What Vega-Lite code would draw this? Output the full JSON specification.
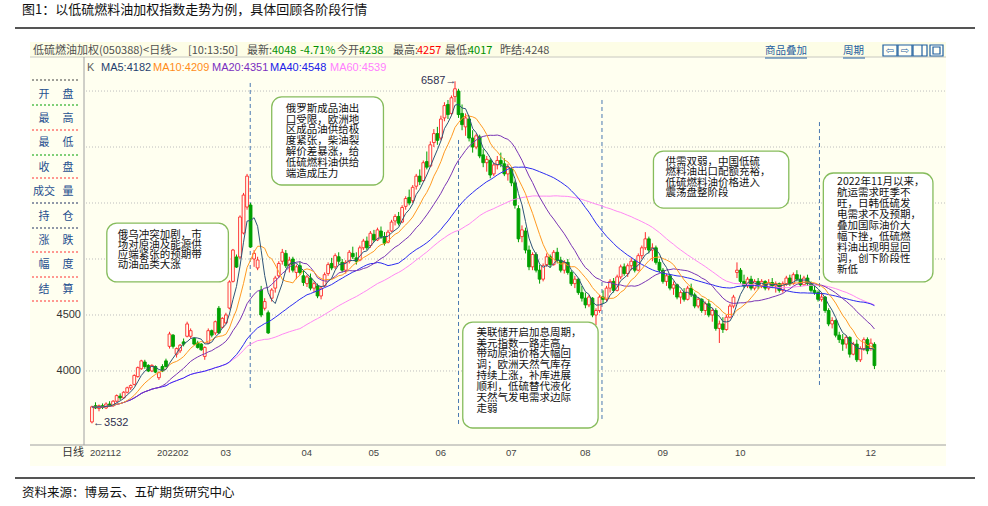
{
"$schema": "https://vega.github.io/schema/vega-lite/v6.json",
"width": 861, "height": 373,
"autosize": {"type": "none"},
"padding": {"left": 84, "top": 72, "right": 43, "bottom": 61},
"background": "#FFFFFF",
"config": {"view": {"stroke": null}, "font": "Noto Sans CJK SC"},
"datasets": {
"candles": [
{"i":0,"o":3545,"h":3690,"l":3532,"c":3680},{"i":1,"o":3690,"h":3720,"l":3660,"c":3670},{"i":2,"o":3665,"h":3700,"l":3640,"c":3690},{"i":3,"o":3690,"h":3710,"l":3660,"c":3675},{"i":4,"o":3670,"h":3720,"l":3660,"c":3705},{"i":5,"o":3705,"h":3730,"l":3680,"c":3690},{"i":6,"o":3690,"h":3740,"l":3680,"c":3730},{"i":7,"o":3730,"h":3790,"l":3720,"c":3780},{"i":8,"o":3775,"h":3800,"l":3740,"c":3760},{"i":9,"o":3760,"h":3820,"l":3750,"c":3810},
{"i":10,"o":3810,"h":3860,"l":3800,"c":3850},{"i":11,"o":3850,"h":3880,"l":3830,"c":3870},{"i":12,"o":3880,"h":3970,"l":3870,"c":3960},{"i":13,"o":3950,"h":4040,"l":3940,"c":4030},{"i":14,"o":4020,"h":4100,"l":4010,"c":4090},{"i":15,"o":4080,"h":4100,"l":4020,"c":4040},{"i":16,"o":4050,"h":4060,"l":3990,"c":4000},{"i":17,"o":4000,"h":4060,"l":3990,"c":4050},{"i":18,"o":4040,"h":4050,"l":3980,"c":3990},{"i":19,"o":3940,"h":3995,"l":3920,"c":3985},
{"i":20,"o":4040,"h":4060,"l":3990,"c":4000},{"i":21,"o":4090,"h":4110,"l":4030,"c":4040},{"i":22,"o":4220,"h":4350,"l":4200,"c":4330},{"i":23,"o":4320,"h":4330,"l":4200,"c":4220},{"i":24,"o":4150,"h":4210,"l":4120,"c":4200},{"i":25,"o":4180,"h":4240,"l":4160,"c":4230},{"i":26,"o":4260,"h":4290,"l":4220,"c":4240},{"i":27,"o":4310,"h":4440,"l":4300,"c":4420},{"i":28,"o":4310,"h":4380,"l":4290,"c":4360},{"i":29,"o":4290,"h":4300,"l":4230,"c":4240},
{"i":30,"o":4250,"h":4270,"l":4200,"c":4210},{"i":31,"o":4240,"h":4250,"l":4180,"c":4190},{"i":32,"o":4130,"h":4220,"l":4100,"c":4210},{"i":33,"o":4250,"h":4380,"l":4240,"c":4360},{"i":34,"o":4360,"h":4370,"l":4300,"c":4320},{"i":35,"o":4340,"h":4450,"l":4320,"c":4440},{"i":36,"o":4560,"h":4580,"l":4330,"c":4340},{"i":37,"o":4390,"h":4480,"l":4380,"c":4470},{"i":38,"o":4430,"h":4520,"l":4420,"c":4500},{"i":39,"o":4562,"h":4810,"l":4550,"c":4795},
{"i":40,"o":4800,"h":5090,"l":4790,"c":5080},{"i":41,"o":5018,"h":5040,"l":4920,"c":4928},{"i":42,"o":5018,"h":5390,"l":5000,"c":5375},{"i":43,"o":5232,"h":5590,"l":5220,"c":5571},{"i":44,"o":5464,"h":5760,"l":5440,"c":5740},{"i":45,"o":5482,"h":5500,"l":5100,"c":5107},{"i":46,"o":5000,"h":5080,"l":4930,"c":5050},{"i":47,"o":4920,"h":5020,"l":4900,"c":4991},{"i":48,"o":4723,"h":4760,"l":4480,"c":4500},{"i":49,"o":4560,"h":4650,"l":4540,"c":4620},
{"i":50,"o":4520,"h":4540,"l":4330,"c":4340},{"i":51,"o":4650,"h":4740,"l":4620,"c":4723},{"i":52,"o":4740,"h":4850,"l":4700,"c":4830},{"i":53,"o":4850,"h":4980,"l":4830,"c":4960},{"i":54,"o":4980,"h":5090,"l":4950,"c":5060},{"i":55,"o":5050,"h":5080,"l":4920,"c":4940},{"i":56,"o":4950,"h":5020,"l":4880,"c":4990},{"i":57,"o":5000,"h":5020,"l":4880,"c":4900},{"i":58,"o":4880,"h":4950,"l":4820,"c":4930},{"i":59,"o":4940,"h":4980,"l":4860,"c":4880},
{"i":60,"o":4850,"h":4900,"l":4760,"c":4790},{"i":61,"o":4780,"h":4860,"l":4750,"c":4840},{"i":62,"o":4830,"h":4870,"l":4720,"c":4740},{"i":63,"o":4740,"h":4800,"l":4700,"c":4780},{"i":64,"o":4760,"h":4780,"l":4650,"c":4670},{"i":65,"o":4670,"h":4760,"l":4640,"c":4740},{"i":66,"o":4760,"h":4880,"l":4750,"c":4860},{"i":67,"o":4870,"h":4970,"l":4850,"c":4950},{"i":68,"o":4960,"h":5010,"l":4900,"c":4920},{"i":69,"o":4930,"h":5050,"l":4910,"c":5030},
{"i":70,"o":5020,"h":5060,"l":4950,"c":4980},{"i":71,"o":4970,"h":5000,"l":4880,"c":4900},{"i":72,"o":4900,"h":4990,"l":4870,"c":4970},{"i":73,"o":4980,"h":5080,"l":4960,"c":5060},{"i":74,"o":5050,"h":5110,"l":5000,"c":5020},{"i":75,"o":5010,"h":5060,"l":4950,"c":4980},{"i":76,"o":4990,"h":5120,"l":4980,"c":5100},{"i":77,"o":5100,"h":5180,"l":5080,"c":5160},{"i":78,"o":5160,"h":5200,"l":5080,"c":5100},{"i":79,"o":5120,"h":5250,"l":5100,"c":5230},
{"i":80,"o":5220,"h":5260,"l":5150,"c":5170},{"i":81,"o":5170,"h":5280,"l":5160,"c":5260},{"i":82,"o":5250,"h":5290,"l":5180,"c":5200},{"i":83,"o":5200,"h":5240,"l":5120,"c":5140},{"i":84,"o":5150,"h":5260,"l":5140,"c":5240},{"i":85,"o":5250,"h":5350,"l":5240,"c":5330},{"i":86,"o":5340,"h":5400,"l":5300,"c":5380},{"i":87,"o":5380,"h":5420,"l":5300,"c":5320},{"i":88,"o":5330,"h":5480,"l":5320,"c":5460},{"i":89,"o":5470,"h":5560,"l":5440,"c":5540},
{"i":90,"o":5550,"h":5620,"l":5480,"c":5500},{"i":91,"o":5520,"h":5660,"l":5500,"c":5640},{"i":92,"o":5650,"h":5760,"l":5620,"c":5740},{"i":93,"o":5740,"h":5800,"l":5660,"c":5690},{"i":94,"o":5700,"h":5880,"l":5690,"c":5860},{"i":95,"o":5870,"h":5960,"l":5800,"c":5820},{"i":96,"o":5830,"h":6050,"l":5820,"c":6020},{"i":97,"o":6040,"h":6160,"l":6000,"c":6120},{"i":98,"o":6120,"h":6180,"l":6020,"c":6060},{"i":99,"o":6080,"h":6280,"l":6060,"c":6250},
{"i":100,"o":6260,"h":6400,"l":6230,"c":6370},{"i":101,"o":6380,"h":6420,"l":6250,"c":6290},{"i":102,"o":6300,"h":6460,"l":6280,"c":6440},{"i":103,"o":6450,"h":6587,"l":6400,"c":6520},{"i":104,"o":6500,"h":6520,"l":6260,"c":6290},{"i":105,"o":6300,"h":6380,"l":6150,"c":6200},{"i":106,"o":6180,"h":6300,"l":6100,"c":6260},{"i":107,"o":6250,"h":6280,"l":6050,"c":6080},{"i":108,"o":6080,"h":6150,"l":5950,"c":6000},{"i":109,"o":6000,"h":6120,"l":5980,"c":6100},
{"i":110,"o":6090,"h":6110,"l":5900,"c":5920},{"i":111,"o":5930,"h":5980,"l":5820,"c":5860},{"i":112,"o":5860,"h":5920,"l":5780,"c":5890},{"i":113,"o":5880,"h":5900,"l":5720,"c":5750},{"i":114,"o":5760,"h":5860,"l":5740,"c":5840},{"i":115,"o":5840,"h":5920,"l":5800,"c":5880},{"i":116,"o":5880,"h":5950,"l":5820,"c":5850},{"i":117,"o":5850,"h":5900,"l":5740,"c":5760},{"i":118,"o":5760,"h":5850,"l":5700,"c":5820},{"i":119,"o":5800,"h":5820,"l":5650,"c":5680},
{"i":120,"o":5680,"h":5700,"l":5450,"c":5480},{"i":121,"o":5450,"h":5480,"l":5150,"c":5180},{"i":122,"o":5200,"h":5300,"l":5150,"c":5260},{"i":123,"o":5250,"h":5280,"l":5050,"c":5080},{"i":124,"o":5080,"h":5120,"l":4900,"c":4930},{"i":125,"o":4930,"h":5060,"l":4900,"c":5040},{"i":126,"o":5040,"h":5060,"l":4880,"c":4900},{"i":127,"o":4900,"h":4950,"l":4780,"c":4820},{"i":128,"o":4820,"h":4960,"l":4800,"c":4940},{"i":129,"o":4950,"h":5050,"l":4930,"c":5020},
{"i":130,"o":5020,"h":5040,"l":4920,"c":4950},{"i":131,"o":4950,"h":5080,"l":4940,"c":5060},{"i":132,"o":5060,"h":5100,"l":4960,"c":4990},{"i":133,"o":4990,"h":5020,"l":4880,"c":4900},{"i":134,"o":4900,"h":4990,"l":4870,"c":4970},{"i":135,"o":4970,"h":5000,"l":4860,"c":4880},{"i":136,"o":4880,"h":4900,"l":4760,"c":4780},{"i":137,"o":4780,"h":4850,"l":4740,"c":4820},{"i":138,"o":4820,"h":4830,"l":4680,"c":4700},{"i":139,"o":4700,"h":4760,"l":4620,"c":4650},
{"i":140,"o":4650,"h":4700,"l":4560,"c":4590},{"i":141,"o":4590,"h":4680,"l":4570,"c":4660},{"i":142,"o":4650,"h":4660,"l":4480,"c":4500},{"i":143,"o":4500,"h":4560,"l":4410,"c":4540},{"i":144,"o":4540,"h":4680,"l":4520,"c":4660},{"i":145,"o":4660,"h":4720,"l":4600,"c":4640},{"i":146,"o":4640,"h":4760,"l":4620,"c":4740},{"i":147,"o":4740,"h":4820,"l":4700,"c":4800},{"i":148,"o":4800,"h":4830,"l":4700,"c":4720},{"i":149,"o":4720,"h":4860,"l":4710,"c":4840},
{"i":150,"o":4840,"h":4950,"l":4820,"c":4930},{"i":151,"o":4930,"h":4960,"l":4850,"c":4870},{"i":152,"o":4870,"h":4960,"l":4840,"c":4940},{"i":153,"o":4940,"h":5010,"l":4900,"c":4980},{"i":154,"o":4980,"h":5000,"l":4880,"c":4900},{"i":155,"o":4900,"h":5050,"l":4890,"c":5030},{"i":156,"o":5030,"h":5120,"l":5000,"c":5100},{"i":157,"o":5100,"h":5240,"l":5080,"c":5180},{"i":158,"o":5180,"h":5200,"l":5050,"c":5080},{"i":159,"o":5080,"h":5140,"l":4980,"c":5100},
{"i":160,"o":5100,"h":5120,"l":4950,"c":4970},{"i":161,"o":4970,"h":5000,"l":4880,"c":4900},{"i":162,"o":4900,"h":4920,"l":4780,"c":4800},{"i":163,"o":4800,"h":4870,"l":4760,"c":4850},{"i":164,"o":4850,"h":4860,"l":4720,"c":4740},{"i":165,"o":4740,"h":4800,"l":4680,"c":4770},{"i":166,"o":4770,"h":4780,"l":4640,"c":4660},{"i":167,"o":4660,"h":4720,"l":4600,"c":4700},{"i":168,"o":4700,"h":4740,"l":4620,"c":4640},{"i":169,"o":4640,"h":4760,"l":4630,"c":4740},
{"i":170,"o":4740,"h":4780,"l":4660,"c":4680},{"i":171,"o":4680,"h":4700,"l":4560,"c":4580},{"i":172,"o":4580,"h":4660,"l":4560,"c":4640},{"i":173,"o":4640,"h":4650,"l":4520,"c":4540},{"i":174,"o":4540,"h":4620,"l":4500,"c":4600},{"i":175,"o":4600,"h":4640,"l":4480,"c":4500},{"i":176,"o":4500,"h":4560,"l":4440,"c":4540},{"i":177,"o":4540,"h":4560,"l":4360,"c":4380},{"i":178,"o":4380,"h":4450,"l":4250,"c":4420},{"i":179,"o":4420,"h":4480,"l":4340,"c":4370},
{"i":180,"o":4370,"h":4500,"l":4360,"c":4480},{"i":181,"o":4480,"h":4600,"l":4470,"c":4580},{"i":182,"o":4580,"h":4680,"l":4560,"c":4660},{"i":183,"o":4880,"h":4970,"l":4830,"c":4900},{"i":184,"o":4900,"h":4920,"l":4780,"c":4800},{"i":185,"o":4800,"h":4860,"l":4740,"c":4760},{"i":186,"o":4760,"h":4840,"l":4740,"c":4820},{"i":187,"o":4820,"h":4850,"l":4720,"c":4740},{"i":188,"o":4740,"h":4820,"l":4720,"c":4800},{"i":189,"o":4800,"h":4830,"l":4730,"c":4760},
{"i":190,"o":4760,"h":4820,"l":4740,"c":4800},{"i":191,"o":4800,"h":4810,"l":4720,"c":4740},{"i":192,"o":4740,"h":4820,"l":4720,"c":4790},{"i":193,"o":4790,"h":4830,"l":4740,"c":4760},{"i":194,"o":4760,"h":4800,"l":4700,"c":4780},{"i":195,"o":4780,"h":4790,"l":4700,"c":4720},{"i":196,"o":4720,"h":4800,"l":4700,"c":4780},{"i":197,"o":4780,"h":4850,"l":4760,"c":4830},{"i":198,"o":4830,"h":4860,"l":4760,"c":4780},{"i":199,"o":4780,"h":4880,"l":4770,"c":4860},
{"i":200,"o":4860,"h":4900,"l":4800,"c":4820},{"i":201,"o":4820,"h":4860,"l":4750,"c":4770},{"i":202,"o":4770,"h":4850,"l":4760,"c":4830},{"i":203,"o":4830,"h":4860,"l":4760,"c":4780},{"i":204,"o":4780,"h":4800,"l":4700,"c":4720},{"i":205,"o":4720,"h":4760,"l":4680,"c":4700},{"i":206,"o":4700,"h":4720,"l":4620,"c":4640},{"i":207,"o":4640,"h":4700,"l":4620,"c":4660},{"i":208,"o":4660,"h":4670,"l":4520,"c":4540},{"i":209,"o":4540,"h":4560,"l":4400,"c":4420},
{"i":210,"o":4420,"h":4480,"l":4380,"c":4450},{"i":211,"o":4450,"h":4460,"l":4300,"c":4320},{"i":212,"o":4320,"h":4350,"l":4250,"c":4280},{"i":213,"o":4280,"h":4330,"l":4180,"c":4240},{"i":214,"o":4240,"h":4320,"l":4200,"c":4300},{"i":215,"o":4300,"h":4310,"l":4120,"c":4150},{"i":216,"o":4150,"h":4260,"l":4140,"c":4240},{"i":217,"o":4240,"h":4280,"l":4080,"c":4100},{"i":218,"o":4100,"h":4220,"l":4080,"c":4200},{"i":219,"o":4200,"h":4300,"l":4180,"c":4280},
{"i":220,"o":4280,"h":4300,"l":4150,"c":4180},{"i":221,"o":4200,"h":4290,"l":4180,"c":4248},{"i":222,"o":4238,"h":4257,"l":4017,"c":4048}
],
"months": [{"i":0,"m":"202112"},{"i":19,"m":"202202"},{"i":37,"m":"03"},{"i":60,"m":"04"},{"i":79,"m":"05"},{"i":98,"m":"06"},{"i":118,"m":"07"},{"i":139,"m":"08"},{"i":161,"m":"09"},{"i":183,"m":"10"},{"i":220,"m":"12"}],
"grid": [{"g":4000},{"g":4500},{"g":5000},{"g":5500},{"g":6000},{"g":6500}]
},
"layer": [
{"data":{"values":[{}]},"mark":{"type":"rect","fill":"#FFFFF0"},"encoding":{"x":{"value":-54},"x2":{"value":862},"y":{"value":-30},"y2":{"value":394}}},
{"data":{"values":[{}]},"mark":{"type":"rect","fill":"#FDFDE6"},"encoding":{"x":{"value":-54},"x2":{"value":862},"y":{"value":-30},"y2":{"value":-15}}},
{"data":{"values":[{}]},"mark":{"type":"rule","color":"#C8C8C0"},"encoding":{"x":{"value":-54},"x2":{"value":862},"y":{"value":-15}}},
{"data":{"name":"grid"},"mark":{"type":"rule","color":"#BDBDBD","strokeDash":[1,2]},"encoding":{"y":{"field":"g","type":"quantitative","scale":{"domain":[3339,6670],"nice":false,"zero":false},"axis":null}}},
{"data":{"name":"grid"},"transform":[{"filter":"datum.g <= 4500"}],"mark":{"type":"text","align":"right","baseline":"middle","fontSize":11,"font":"Liberation Sans","color":"#333333"},"encoding":{"x":{"value":-3},"y":{"field":"g","type":"quantitative","axis":null},"text":{"field":"g"}}},
{"data":{"values":[{}]},"mark":{"type":"rule","color":"#A0A0A0"},"encoding":{"x":{"value":0},"y":{"value":-15},"y2":{"value":373}}},
{"data":{"values":[{}]},"mark":{"type":"rule","color":"#A0A0A0"},"encoding":{"x":{"value":-54},"x2":{"value":862},"y":{"value":373}}},
{"data":{"values":[{}]},"mark":{"type":"rule","color":"#404040","strokeDash":[2,2]},"encoding":{"x":{"value":-52},"x2":{"value":-6},"y":{"value":8}}},
{"data":{"values":[{}]},"mark":{"type":"rule","color":"#00A000","strokeDash":[2,2]},"encoding":{"x":{"value":-52},"x2":{"value":-6},"y":{"value":33}}},
{"data":{"values":[{}]},"mark":{"type":"rule","color":"#FF3030","strokeDash":[2,2]},"encoding":{"x":{"value":-52},"x2":{"value":-6},"y":{"value":58}}},
{"data":{"values":[{}]},"mark":{"type":"rule","color":"#00A000","strokeDash":[2,2]},"encoding":{"x":{"value":-52},"x2":{"value":-6},"y":{"value":83}}},
{"data":{"values":[{}]},"mark":{"type":"rule","color":"#FF3030","strokeDash":[2,2]},"encoding":{"x":{"value":-52},"x2":{"value":-6},"y":{"value":106}}},
{"data":{"values":[{}]},"mark":{"type":"rule","color":"#203060","strokeDash":[2,2]},"encoding":{"x":{"value":-52},"x2":{"value":-6},"y":{"value":131}}},
{"data":{"values":[{}]},"mark":{"type":"rule","color":"#203060","strokeDash":[2,2]},"encoding":{"x":{"value":-52},"x2":{"value":-6},"y":{"value":156}}},
{"data":{"values":[{}]},"mark":{"type":"rule","color":"#FF3030","strokeDash":[2,2]},"encoding":{"x":{"value":-52},"x2":{"value":-6},"y":{"value":180}}},
{"data":{"values":[{}]},"mark":{"type":"rule","color":"#FF3030","strokeDash":[2,2]},"encoding":{"x":{"value":-52},"x2":{"value":-6},"y":{"value":205}}},
{"data":{"values":[{}]},"mark":{"type":"rule","color":"#FF3030","strokeDash":[2,2]},"encoding":{"x":{"value":-52},"x2":{"value":-6},"y":{"value":229}}},
{"data":{"values":[{}]},"mark":{"type":"text","align":"center","baseline":"top","fontSize":11,"lineHeight":24.4,"color":"#1F4F8F"},"encoding":{"x":{"value":-40},"y":{"value":16.5},"text":{"value":["开","最","最","收","成交","持","涨","幅","结"]}}},
{"data":{"values":[{}]},"mark":{"type":"text","align":"center","baseline":"top","fontSize":11,"lineHeight":24.4,"color":"#1F4F8F"},"encoding":{"x":{"value":-16},"y":{"value":16.5},"text":{"value":["盘","高","低","盘","量","仓","跌","度","算"]}}},
{"data":{"values":[{}]},"mark":{"type":"text","align":"left","baseline":"middle","fontSize":13,"color":"#111111"},"encoding":{"x":{"value":-62},"y":{"value":-62},"text":{"value":"图1：以低硫燃料油加权指数走势为例，具体回顾各阶段行情"}}},
{"data":{"values":[{}]},"mark":{"type":"rule","color":"#555555","strokeWidth":2},"encoding":{"x":{"value":-69},"x2":{"value":891},"y":{"value":-44}}},
{"data":{"values":[{}]},"mark":{"type":"rule","color":"#555555","strokeWidth":2},"encoding":{"x":{"value":-69},"x2":{"value":891},"y":{"value":406}}},
{"data":{"values":[{}]},"mark":{"type":"text","align":"left","baseline":"middle","fontSize":12.5,"color":"#111111"},"encoding":{"x":{"value":-62},"y":{"value":421},"text":{"value":"资料来源：博易云、五矿期货研究中心"}}},
{"data":{"values":[{}]},"mark":{"type":"text","align":"left","baseline":"middle","fontSize":11,"color":"#505050"},"encoding":{"x":{"value":-51},"y":{"value":-21},"text":{"value":"低硫燃油加权(050388)<日线>"}}},
{"data":{"values":[{}]},"mark":{"type":"text","align":"left","baseline":"middle","fontSize":11,"color":"#505050"},"encoding":{"x":{"value":104},"y":{"value":-21},"text":{"value":"[10:13:50]"}}},
{"data":{"values":[{}]},"mark":{"type":"text","align":"left","baseline":"middle","fontSize":11,"color":"#505050"},"encoding":{"x":{"value":163},"y":{"value":-21},"text":{"value":"最新:"}}},
{"data":{"values":[{}]},"mark":{"type":"text","align":"left","baseline":"middle","fontSize":11,"color":"#009000"},"encoding":{"x":{"value":188},"y":{"value":-21},"text":{"value":"4048"}}},
{"data":{"values":[{}]},"mark":{"type":"text","align":"left","baseline":"middle","fontSize":11,"color":"#009000"},"encoding":{"x":{"value":216},"y":{"value":-21},"text":{"value":"-4.71%"}}},
{"data":{"values":[{}]},"mark":{"type":"text","align":"left","baseline":"middle","fontSize":11,"color":"#505050"},"encoding":{"x":{"value":253},"y":{"value":-21},"text":{"value":"今开:"}}},
{"data":{"values":[{}]},"mark":{"type":"text","align":"left","baseline":"middle","fontSize":11,"color":"#009000"},"encoding":{"x":{"value":275},"y":{"value":-21},"text":{"value":"4238"}}},
{"data":{"values":[{}]},"mark":{"type":"text","align":"left","baseline":"middle","fontSize":11,"color":"#505050"},"encoding":{"x":{"value":309},"y":{"value":-21},"text":{"value":"最高:"}}},
{"data":{"values":[{}]},"mark":{"type":"text","align":"left","baseline":"middle","fontSize":11,"color":"#FF0000"},"encoding":{"x":{"value":333},"y":{"value":-21},"text":{"value":"4257"}}},
{"data":{"values":[{}]},"mark":{"type":"text","align":"left","baseline":"middle","fontSize":11,"color":"#505050"},"encoding":{"x":{"value":361},"y":{"value":-21},"text":{"value":"最低:"}}},
{"data":{"values":[{}]},"mark":{"type":"text","align":"left","baseline":"middle","fontSize":11,"color":"#009000"},"encoding":{"x":{"value":384},"y":{"value":-21},"text":{"value":"4017"}}},
{"data":{"values":[{}]},"mark":{"type":"text","align":"left","baseline":"middle","fontSize":11,"color":"#505050"},"encoding":{"x":{"value":416},"y":{"value":-21},"text":{"value":"昨结:4248"}}},
{"data":{"values":[{}]},"mark":{"type":"text","align":"left","baseline":"middle","fontSize":10.5,"color":"#1F5FA0"},"encoding":{"x":{"value":681},"y":{"value":-21},"text":{"value":"商品叠加"}}},
{"data":{"values":[{}]},"mark":{"type":"rule","color":"#1F5FA0"},"encoding":{"x":{"value":681},"x2":{"value":723},"y":{"value":-14}}},
{"data":{"values":[{}]},"mark":{"type":"text","align":"left","baseline":"middle","fontSize":10.5,"color":"#1F5FA0"},"encoding":{"x":{"value":759},"y":{"value":-21},"text":{"value":"周期"}}},
{"data":{"values":[{}]},"mark":{"type":"rule","color":"#1F5FA0"},"encoding":{"x":{"value":759},"x2":{"value":781},"y":{"value":-14}}},
{"data":{"values":[{}]},"mark":{"type":"rect","fill":"#FFFFF6","stroke":"#1F5FA0","strokeWidth":1.2},"encoding":{"x":{"value":799},"x2":{"value":813},"y":{"value":-27},"y2":{"value":-16}}},
{"data":{"values":[{}]},"mark":{"type":"rect","fill":"#FFFFF6","stroke":"#1F5FA0","strokeWidth":1.2},"encoding":{"x":{"value":814},"x2":{"value":828},"y":{"value":-27},"y2":{"value":-16}}},
{"data":{"values":[{}]},"mark":{"type":"rect","fill":"#FFFFF6","stroke":"#1F5FA0","strokeWidth":1.2},"encoding":{"x":{"value":829},"x2":{"value":843},"y":{"value":-27},"y2":{"value":-16}}},
{"data":{"values":[{}]},"mark":{"type":"rect","fill":"#FFFFF6","stroke":"#1F5FA0","strokeWidth":1.2},"encoding":{"x":{"value":846},"x2":{"value":859},"y":{"value":-27},"y2":{"value":-16}}},
{"data":{"values":[{}]},"mark":{"type":"rect","fill":"none","stroke":"#1F5FA0","strokeWidth":1.2},"encoding":{"x":{"value":849},"x2":{"value":856},"y":{"value":-25},"y2":{"value":-18}}},
{"data":{"values":[{}]},"mark":{"type":"rule","color":"#1F5FA0","strokeWidth":1.2},"encoding":{"x":{"value":838},"y":{"value":-27},"y2":{"value":-16}}},
{"data":{"values":[{}]},"mark":{"type":"text","align":"center","baseline":"middle","fontSize":10,"color":"#1F5FA0","font":"DejaVu Sans"},"encoding":{"x":{"value":806},"y":{"value":-21},"text":{"value":"⇦"}}},
{"data":{"values":[{}]},"mark":{"type":"text","align":"center","baseline":"middle","fontSize":10,"color":"#1F5FA0","font":"DejaVu Sans"},"encoding":{"x":{"value":821},"y":{"value":-21},"text":{"value":"⇨"}}},
{"data":{"values":[{}]},"mark":{"type":"text","align":"left","baseline":"middle","fontSize":11,"color":"#606060","font":"Liberation Sans"},"encoding":{"x":{"value":3},"y":{"value":-4},"text":{"value":"K"}}},
{"data":{"values":[{}]},"mark":{"type":"text","align":"left","baseline":"middle","fontSize":11,"color":"#1F3F6F","font":"Liberation Sans"},"encoding":{"x":{"value":17},"y":{"value":-4},"text":{"value":"MA5:4182"}}},
{"data":{"values":[{}]},"mark":{"type":"text","align":"left","baseline":"middle","fontSize":11,"color":"#FF8C1A","font":"Liberation Sans"},"encoding":{"x":{"value":69},"y":{"value":-4},"text":{"value":"MA10:4209"}}},
{"data":{"values":[{}]},"mark":{"type":"text","align":"left","baseline":"middle","fontSize":11,"color":"#7A2FBF","font":"Liberation Sans"},"encoding":{"x":{"value":128},"y":{"value":-4},"text":{"value":"MA20:4351"}}},
{"data":{"values":[{}]},"mark":{"type":"text","align":"left","baseline":"middle","fontSize":11,"color":"#2020E8","font":"Liberation Sans"},"encoding":{"x":{"value":186},"y":{"value":-4},"text":{"value":"MA40:4548"}}},
{"data":{"values":[{}]},"mark":{"type":"text","align":"left","baseline":"middle","fontSize":11,"color":"#FF80FF","font":"Liberation Sans"},"encoding":{"x":{"value":246},"y":{"value":-4},"text":{"value":"MA60:4539"}}},
{"data":{"name":"months"},"mark":{"type":"text","align":"left","baseline":"middle","fontSize":9.5,"color":"#444444","font":"Liberation Sans","dx":-2},"encoding":{"x":{"field":"i","type":"quantitative","scale":{"domain":[-0.841,240.6],"nice":false,"zero":false},"axis":null},"y":{"value":381},"text":{"field":"m"}}},
{"data":{"values":[{}]},"mark":{"type":"text","align":"left","baseline":"middle","fontSize":11,"color":"#333333"},"encoding":{"x":{"value":-22},"y":{"value":381},"text":{"value":"日线"}}},
{"data":{"values":[{}]},"mark":{"type":"rule","color":"#4A78B0","strokeDash":[4,3]},"encoding":{"x":{"datum":44.9,"axis":null},"y":{"datum":6572,"axis":null},"y2":{"datum":3839}}},
{"data":{"values":[{}]},"mark":{"type":"rule","color":"#4A78B0","strokeDash":[4,3]},"encoding":{"x":{"datum":104,"axis":null},"y":{"datum":6063,"axis":null},"y2":{"datum":3518}}},
{"data":{"values":[{}]},"mark":{"type":"rule","color":"#4A78B0","strokeDash":[4,3]},"encoding":{"x":{"datum":144.7,"axis":null},"y":{"datum":6420,"axis":null},"y2":{"datum":3562}}},
{"data":{"values":[{}]},"mark":{"type":"rule","color":"#4A78B0","strokeDash":[4,3]},"encoding":{"x":{"datum":206.4,"axis":null},"y":{"datum":6223,"axis":null},"y2":{"datum":3875}}},
{"data":{"name":"candles"},"mark":{"type":"rule","strokeWidth":1},"encoding":{"x":{"field":"i","type":"quantitative","axis":null},"y":{"field":"l","type":"quantitative","axis":null},"y2":{"field":"h"},"color":{"condition":{"test":"datum.c >= datum.o","value":"#FF2A2A"},"value":"#00A000"}}},
{"data":{"name":"candles"},"mark":{"type":"bar","size":2.8,"strokeWidth":0.9},"encoding":{"x":{"field":"i","type":"quantitative","axis":null},"y":{"field":"o","type":"quantitative","axis":null},"y2":{"field":"c"},"fill":{"condition":{"test":"datum.c >= datum.o","value":"#FFFFF0"},"value":"#00A000"},"stroke":{"condition":{"test":"datum.c >= datum.o","value":"#FF2A2A"},"value":"#00A000"}}},
{"data":{"name":"candles"},"transform":[{"window":[{"op":"mean","field":"c","as":"ma60"}],"frame":[-59,0],"sort":[{"field":"i"}]}],"mark":{"type":"line","color":"#FF88F5","strokeWidth":1},"encoding":{"x":{"field":"i","type":"quantitative","axis":null},"y":{"field":"ma60","type":"quantitative","axis":null}}},
{"data":{"name":"candles"},"transform":[{"window":[{"op":"mean","field":"c","as":"ma40"}],"frame":[-39,0],"sort":[{"field":"i"}]}],"mark":{"type":"line","color":"#2B2BF0","strokeWidth":1},"encoding":{"x":{"field":"i","type":"quantitative","axis":null},"y":{"field":"ma40","type":"quantitative","axis":null}}},
{"data":{"name":"candles"},"transform":[{"window":[{"op":"mean","field":"c","as":"ma20"}],"frame":[-19,0],"sort":[{"field":"i"}]}],"mark":{"type":"line","color":"#7A35B5","strokeWidth":1},"encoding":{"x":{"field":"i","type":"quantitative","axis":null},"y":{"field":"ma20","type":"quantitative","axis":null}}},
{"data":{"name":"candles"},"transform":[{"window":[{"op":"mean","field":"c","as":"ma10"}],"frame":[-9,0],"sort":[{"field":"i"}]}],"mark":{"type":"line","color":"#FF9A22","strokeWidth":1},"encoding":{"x":{"field":"i","type":"quantitative","axis":null},"y":{"field":"ma10","type":"quantitative","axis":null}}},
{"data":{"name":"candles"},"transform":[{"window":[{"op":"mean","field":"c","as":"ma5"}],"frame":[-4,0],"sort":[{"field":"i"}]}],"mark":{"type":"line","color":"#2E5478","strokeWidth":1},"encoding":{"x":{"field":"i","type":"quantitative","axis":null},"y":{"field":"ma5","type":"quantitative","axis":null}}},
{"data":{"values":[{}]},"mark":{"type":"rect","fill":"#FFFFFF","stroke":"#86BC5C","strokeWidth":1.3,"cornerRadius":10},"encoding":{"x":{"datum":4.21,"axis":null},"x2":{"datum":38.7},"y":{"datum":5321,"axis":null},"y2":{"datum":4795}}},
{"data":{"values":[{}]},"mark":{"type":"text","align":"left","baseline":"top","fontSize":10.5,"lineHeight":10.2,"color":"#111111"},"encoding":{"x":{"datum":7.29,"axis":null},"y":{"datum":5262,"axis":null},"text":{"value":["俄乌冲突加剧，市","场对原油及能源供","应端紧张的预期带","动油品类大涨"]}}},
{"data":{"values":[{}]},"mark":{"type":"rect","fill":"#FFFFFF","stroke":"#86BC5C","strokeWidth":1.3,"cornerRadius":10},"encoding":{"x":{"datum":51.0,"axis":null},"x2":{"datum":82.7},"y":{"datum":6447,"axis":null},"y2":{"datum":5661}}},
{"data":{"values":[{}]},"mark":{"type":"text","align":"left","baseline":"top","fontSize":10.5,"lineHeight":10.9,"color":"#111111"},"encoding":{"x":{"datum":55.0,"axis":null},"y":{"datum":6387,"axis":null},"text":{"value":["俄罗斯成品油出","口受限，欧洲地","区成品油供给极","度紧张，柴油裂","解价差暴涨，给","低硫燃料油供给","端造成压力"]}}},
{"data":{"values":[{}]},"mark":{"type":"rect","fill":"#FFFFFF","stroke":"#86BC5C","strokeWidth":1.3,"cornerRadius":10},"encoding":{"x":{"datum":105.2,"axis":null},"x2":{"datum":143.6},"y":{"datum":4437,"axis":null},"y2":{"datum":3491}}},
{"data":{"values":[{}]},"mark":{"type":"text","align":"left","baseline":"top","fontSize":10.5,"lineHeight":10.9,"color":"#111111"},"encoding":{"x":{"datum":109.1,"axis":null},"y":{"datum":4387,"axis":null},"text":{"value":["美联储开启加息周期，","美元指数一路走高，","带动原油价格大幅回","调；欧洲天然气库存","持续上涨，补库进展","顺利，低硫替代液化","天然气发电需求边际","走弱"]}}},
{"data":{"values":[{}]},"mark":{"type":"rect","fill":"#FFFFFF","stroke":"#86BC5C","strokeWidth":1.3,"cornerRadius":10},"encoding":{"x":{"datum":159.3,"axis":null},"x2":{"datum":197.7},"y":{"datum":5964,"axis":null},"y2":{"datum":5455}}},
{"data":{"values":[{}]},"mark":{"type":"text","align":"left","baseline":"top","fontSize":10.5,"lineHeight":10.5,"color":"#111111"},"encoding":{"x":{"datum":162.7,"axis":null},"y":{"datum":5913,"axis":null},"text":{"value":["供需双弱，中国低硫","燃料油出口配额充裕，","低硫燃料油价格进入","震荡盘整阶段"]}}},
{"data":{"values":[{}]},"mark":{"type":"rect","fill":"#FFFFFF","stroke":"#86BC5C","strokeWidth":1.3,"cornerRadius":10},"encoding":{"x":{"datum":207.5,"axis":null},"x2":{"datum":238.6},"y":{"datum":5768,"axis":null},"y2":{"datum":4795}}},
{"data":{"values":[{}]},"mark":{"type":"text","align":"left","baseline":"top","fontSize":10.5,"lineHeight":11.1,"color":"#111111"},"encoding":{"x":{"datum":211.4,"axis":null},"y":{"datum":5735,"axis":null},"text":{"value":["2022年11月以来，","航运需求旺季不","旺，日韩低硫发","电需求不及预期，","叠加国际油价大","幅下挫，低硫燃","料油出现明显回","调，创下阶段性","新低"]}}},
{"data":{"values":[{}]},"mark":{"type":"text","align":"right","baseline":"middle","fontSize":11,"color":"#303050","font":"Liberation Sans"},"encoding":{"x":{"datum":103.4,"axis":null},"y":{"datum":6587,"axis":null},"text":{"value":"6587→"}}},
{"data":{"values":[{}]},"mark":{"type":"text","align":"left","baseline":"middle","fontSize":11,"color":"#303050","font":"Liberation Sans"},"encoding":{"x":{"datum":0.3,"axis":null},"y":{"datum":3532,"axis":null},"text":{"value":"←3532"}}}
]
}
